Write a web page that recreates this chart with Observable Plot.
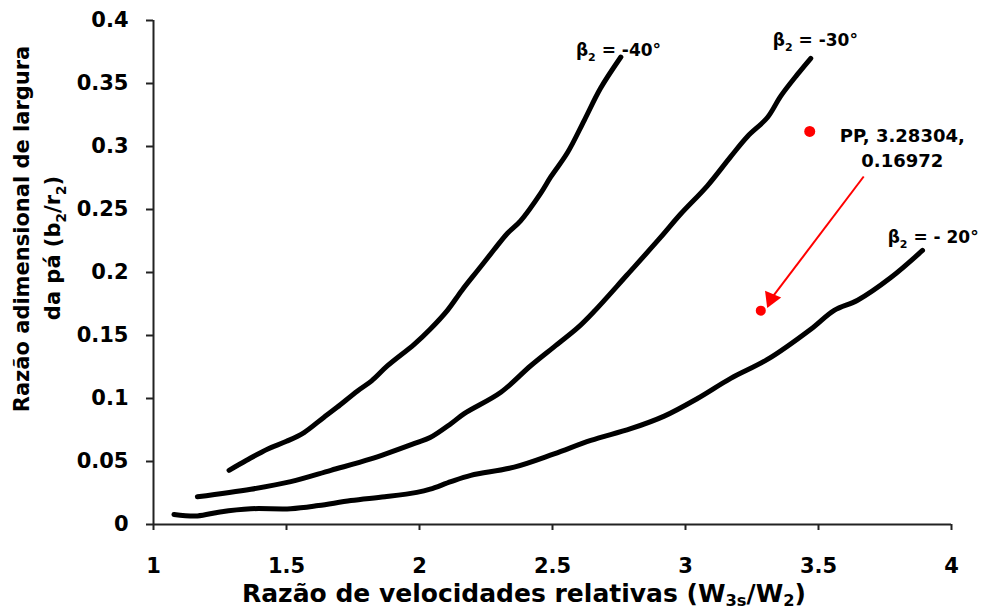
<!DOCTYPE html>
<html><head><meta charset="utf-8">
<script src="https://cdn.jsdelivr.net/npm/d3@7"></script>
<script src="https://cdn.jsdelivr.net/npm/@observablehq/plot@0.6"></script>
<style>body{margin:0;background:#fff} svg{display:block}</style>
</head><body><div id="chart"></div>
<script>
// Curves: [x, y]
const curveBeta40 = [[1.284,0.043],[1.35,0.051],[1.43,0.060],[1.50,0.066],[1.566,0.073],[1.64,0.085],[1.69,0.093],[1.767,0.106],[1.82,0.114],[1.88,0.126],[1.98,0.143],[2.04,0.155],[2.105,0.170],[2.16,0.186],[2.22,0.202],[2.28,0.218],[2.33,0.231],[2.38,0.241],[2.456,0.263],[2.494,0.276],[2.556,0.295],[2.62,0.321],[2.68,0.346],[2.757,0.371]];
const curveBeta30 = [[1.165,0.022],[1.366,0.028],[1.516,0.034],[1.667,0.043],[1.817,0.052],[1.99,0.065],[2.04,0.069],[2.118,0.080],[2.168,0.088],[2.306,0.105],[2.418,0.126],[2.506,0.141],[2.594,0.156],[2.656,0.169],[2.78,0.198],[2.907,0.228],[2.98,0.246],[3.083,0.269],[3.17,0.292],[3.233,0.308],[3.308,0.323],[3.358,0.340],[3.42,0.357],[3.471,0.370]];
const curveBeta20 = [[1.077,0.008],[1.165,0.0068],[1.25,0.010],[1.366,0.0125],[1.516,0.0125],[1.62,0.015],[1.742,0.019],[1.87,0.022],[1.99,0.0255],[2.04,0.028],[2.118,0.034],[2.193,0.039],[2.356,0.0455],[2.506,0.056],[2.644,0.0667],[2.794,0.076],[2.92,0.086],[3.045,0.100],[3.17,0.116],[3.308,0.131],[3.471,0.155],[3.559,0.170],[3.647,0.178],[3.772,0.196],[3.891,0.2175]];
const seriesKeys = ["-40", "-30", "- 20"];
// Series labels: [x, y, angle text]
const seriesLabels = [[2.75, 0.376, "-40°"], [3.49, 0.384, "-30°"], [3.933, 0.228, "- 20°"]];
const pointPP = [[3.28304, 0.16972]];
const ppMarker = [[3.467, 0.312]];
const ppLabel = [[3.815, 0.300, "PP, 3.28304,\n0.16972"]];
const arrowPP = [[3.670, 0.2762, 3.318, 0.1780]];
const arrowTip = [[3.322, 0.1792]];
const xTicks = [1, 1.5, 2, 2.5, 3, 3.5, 4];
const xTickLabels = ["1", "1.5", "2", "2.5", "3", "3.5", "4"];
const yTicks = [0, 0.05, 0.1, 0.15, 0.2, 0.25, 0.3, 0.35, 0.4];
const yTickLabels = ["0", "0.05", "0.1", "0.15", "0.2", "0.25", "0.3", "0.35", "0.4"];
const xTitle = [["Razão de velocidades relativas (W", false], ["3s", true], ["/W", false], ["2", true], [")", false]];
const yTitle1 = [["Razão adimensional de largura", false]];
const yTitle2 = [["da pá (b", false], ["2", true], ["/r", false], ["2", true], [")", false]];

const rows = [];
[curveBeta40, curveBeta30, curveBeta20].forEach((c, k) => c.forEach(([x, y]) => rows.push({x, y, s: seriesKeys[k]})));

const W = 982, H = 614, ML = 153, MR = 31, MT = 20, MB = 90;
// direction of the arrow on screen, for orienting the filled head
const kx = (W - ML - MR) / 3, ky = (H - MT - MB) / 0.4;
const a = arrowPP[0];
const headAngle = Math.atan2((a[2] - a[0]) * kx, (a[3] - a[1]) * ky) * 180 / Math.PI;

const FONT = "'DejaVu Sans', sans-serif";
const plot = Plot.plot({
  width: W, height: H,
  marginTop: MT, marginRight: MR, marginBottom: MB, marginLeft: ML,
  x: {domain: [1, 4]},
  y: {domain: [0, 0.4]},
  style: {fontFamily: FONT, fontWeight: "bold", fontSize: "21px", color: "#000", background: "#fff"},
  marks: [
    Plot.line(rows, {x: "x", y: "y", z: "s", stroke: "#000", strokeWidth: 5, curve: "catmull-rom", strokeLinecap: "round", strokeLinejoin: "round"}),
    Plot.ruleX([1], {stroke: "#222", strokeWidth: 2}),
    Plot.ruleY([0], {stroke: "#222", strokeWidth: 2}),
    Plot.axisX({ticks: xTicks, tickFormat: d => xTickLabels[xTicks.indexOf(d)], tickSize: 6, tickPadding: 28, label: null, stroke: "#222", strokeWidth: 2, fontSize: 21}),
    Plot.axisY({ticks: yTicks, tickFormat: d => yTickLabels[yTicks.indexOf(d)], tickSize: 7, tickPadding: 18, label: null, stroke: "#222", strokeWidth: 2, fontSize: 21}),
    Plot.link(arrowPP, {x1: d => d[0], y1: d => d[1], x2: d => d[2], y2: d => d[3], stroke: "#ff0000", strokeWidth: 2}),
    Plot.dot(arrowTip, {x: d => d[0], y: d => d[1], symbol: "triangle", r: 6.5, fill: "#ff0000", stroke: null, rotate: 180 - headAngle}),
    Plot.dot(pointPP, {x: d => d[0], y: d => d[1], r: 5, fill: "#ff0000", stroke: null}),
    Plot.dot(ppMarker, {x: d => d[0], y: d => d[1], r: 5.5, fill: "#ff0000", stroke: null}),
    Plot.text(ppLabel, {x: d => d[0], y: d => d[1], text: d => d[2], fontSize: 18, fontWeight: "bold", fill: "#000", textAnchor: "middle", lineHeight: 1.38})
  ]
});
document.getElementById("chart").appendChild(plot);

const svg = d3.select(plot);
const sx = plot.scale("x"), sy = plot.scale("y");
function addText(parts, x, y, size, opts = {}) {
  const t = svg.append("text")
    .attr("x", x).attr("y", y)
    .attr("font-family", FONT).attr("font-weight", "bold")
    .attr("font-size", size).attr("fill", "#000")
    .attr("text-anchor", opts.anchor || "middle");
  if (opts.rotate) t.attr("transform", `rotate(${opts.rotate},${x},${y})`);
  const shift = Math.round(size * (opts.subShift || 0.28));
  let sub = false;
  parts.forEach(([s, isSub]) => {
    const ts = t.append("tspan").text(s);
    if (isSub && !sub) { ts.attr("dy", shift).attr("font-size", size * 0.65); sub = true; }
    else if (isSub) { ts.attr("font-size", size * 0.65); }
    else if (!isSub && sub) { ts.attr("dy", -shift); sub = false; }
  });
  return t;
}
// axis titles
addText(xTitle, 524, 602, 25, {subShift: 0.16});
addText(yTitle1, 29, 229, 21, {rotate: -90});
addText(yTitle2, 60, 248, 21, {rotate: -90});
// series labels
seriesLabels.forEach(([x, y, ang]) => {
  addText([["β", false], ["2", true], [" = " + ang, false]], sx.apply(x), sy.apply(y) + 6, 17);
});
</script></body></html>
